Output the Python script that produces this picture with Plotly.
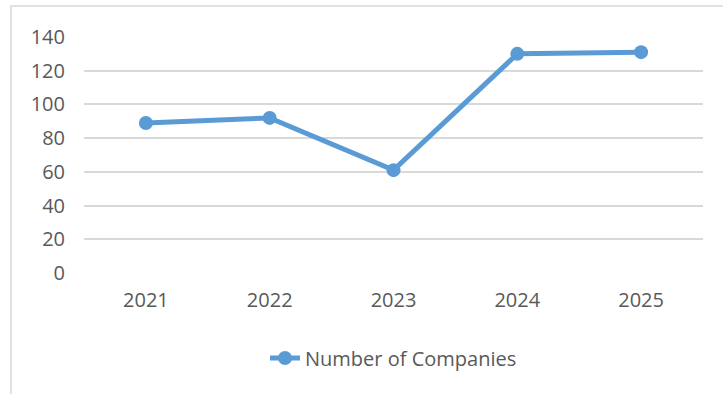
import plotly.graph_objects as go

years = ["2021", "2022", "2023", "2024", "2025"]
companies = [89, 92, 61, 130, 131]
y_ticks = [0, 20, 40, 60, 80, 100, 120, 140]

color = "#5B9BD5"
txt = "#595959"
font_family = "Open Sans"

fig = go.Figure()
fig.add_trace(go.Scatter(
    x=years, y=companies, mode="lines+markers",
    name="Number of Companies",
    line=dict(color=color, width=5),
    marker=dict(color=color, size=14),
))

fig.update_layout(
    width=723, height=394,
    margin=dict(l=84, r=20, t=37, b=121),
    paper_bgcolor="white", plot_bgcolor="white",
    font=dict(family=font_family, size=20, color=txt),
    showlegend=True,
    legend=dict(orientation="h", x=0.5, xanchor="center", y=-0.36, yanchor="middle",
                font=dict(size=20, color=txt)),
    xaxis=dict(type="category", range=[-0.5, 4.5], showgrid=False, zeroline=False,
               showline=False, ticks="", ticklabelstandoff=13,
               tickfont=dict(size=20, color=txt)),
    yaxis=dict(range=[0, 140], tickvals=y_ticks, showgrid=True, gridcolor="#D9D9D9",
               gridwidth=1.5, zeroline=False, showline=False, ticks="",
               ticklabelstandoff=18, tickfont=dict(size=20, color=txt)),
    shapes=[dict(type="rect", xref="paper", yref="paper",
                 x0=(11 - 84) / 619, x1=(740 - 84) / 619,
                 y0=(273 - 410) / 236, y1=(273 - 6) / 236,
                 line=dict(color="#D9D9D9", width=1.5), layer="below")],
)

fig.write_html("out.html")
